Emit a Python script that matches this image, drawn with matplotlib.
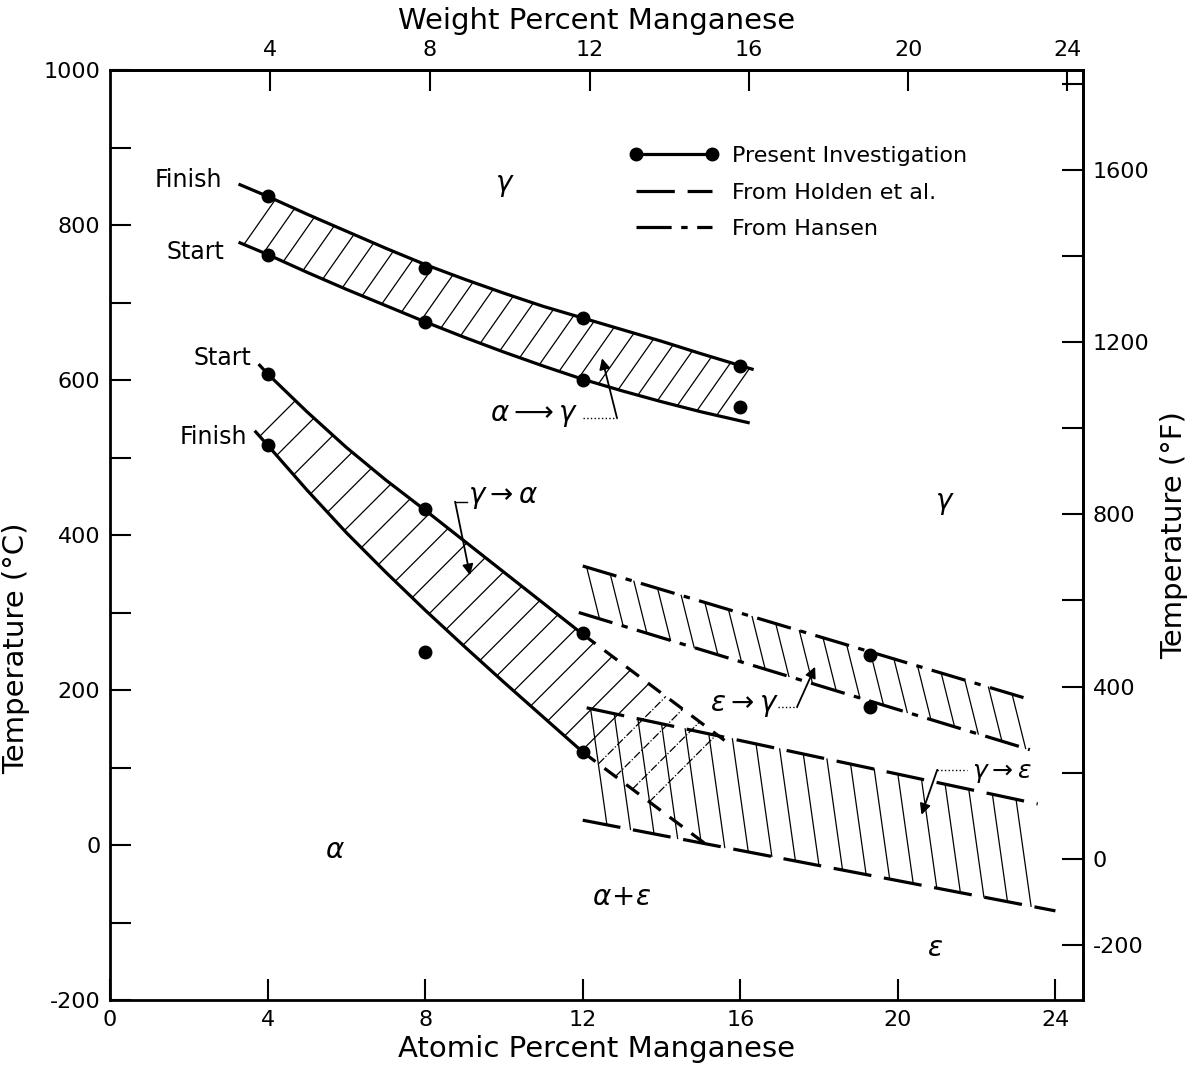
import numpy as np
import matplotlib
matplotlib.use("Agg")
import matplotlib.pyplot as plt
from matplotlib.lines import Line2D
from matplotlib.ticker import FixedLocator, FuncFormatter

# ---------------- data (atomic % Mn, temperature in deg C) ----------------
# measured points, present investigation
heat_finish_pts_x = [4, 8, 12, 16]
heat_finish_pts_y = [838, 745, 680, 618]
heat_start_pts_x = [4, 8, 12, 16]
heat_start_pts_y = [761, 675, 600, 565]
cool_start_pts_x = [4, 8, 12]
cool_start_pts_y = [608, 434, 273]
cool_finish_pts_x = [4, 8, 12]
cool_finish_pts_y = [516, 249, 120]
eps_pts_x = [19.3, 19.3]
eps_pts_y = [245, 178]

# curves
heat_finish_x = [3.3, 4, 5, 6, 7, 8, 9, 10, 11, 12, 13, 14, 15, 16.3]
heat_finish_y = [852, 837, 814, 792, 770, 749, 730, 712, 695, 680, 665, 650, 634, 614]
heat_start_x = [3.3, 4, 5, 6, 7, 8, 9, 10, 11, 12, 13, 14, 15, 16.2]
heat_start_y = [777, 762, 739, 717, 696, 675, 655, 636, 618, 601, 586, 572, 559, 545]
cool_start_x = [3.8, 4, 5, 6, 7, 8, 9, 10, 11, 12]
cool_start_y = [619, 608, 559, 513, 471, 432, 392, 352, 312, 272]
cool_start_ext_x = [12, 15.6]
cool_start_ext_y = [272, 135]
cool_finish_x = [3.7, 4, 5, 6, 7, 8, 9, 10, 11, 12]
cool_finish_y = [533, 516, 458, 403, 352, 303, 256, 210, 165, 120]
cool_finish_ext_x = [12, 15.1]
cool_finish_ext_y = [120, 2]

# Hansen (eps -> gamma) and Holden et al. (gamma -> eps)
hansen_upper_x = [12.0, 23.4]
hansen_upper_y = [360, 187]
hansen_lower_x = [11.9, 23.35]
hansen_lower_y = [300, 123]
holden_upper_x = [12.1, 23.55]
holden_upper_y = [177, 53]
holden_lower_x = [12.0, 24.0]
holden_lower_y = [32, -85]

x_ticks = [0, 4, 8, 12, 16, 20, 24]
y_major = [-200, 0, 200, 400, 600, 800, 1000]
wt_ticks = [4, 8, 12, 16, 20, 24]
f_ticks = [-200, 0, 200, 400, 600, 800, 1000, 1200, 1400, 1600, 1800]
f_labeled = [-200, 0, 400, 800, 1200, 1600]

legend_labels = ["Present Investigation", "From Holden et al.", "From Hansen"]

# ---------------- figure ----------------
W, H, DPI = 11.88, 10.76, 100
XMIN, XMAX, YMIN, YMAX = 0, 24.7, -200, 1000
AX_L, AX_B, AX_W, AX_H = 110 / 1188, 76 / 1076, 973 / 1188, 930 / 1076

plt.rcParams["font.family"] = ["DejaVu Sans"]
plt.rcParams["mathtext.fontset"] = "dejavusans"
plt.rcParams["axes.unicode_minus"] = False

fig = plt.figure(figsize=(W, H), dpi=DPI)
ax = fig.add_axes([AX_L, AX_B, AX_W, AX_H])
ax.set_xlim(XMIN, XMAX)
ax.set_ylim(YMIN, YMAX)

SX = AX_W * W * DPI / (XMAX - XMIN)   # pixels per at%
SY = AX_H * H * DPI / (YMAX - YMIN)   # pixels per deg C

LW = 2.3
HLW = 0.9
holden_ls = (0, (12, 4))
hansen_ls = (0, (11, 3, 2, 3))


def hatch(from_x, from_y, to_x, to_y, starts, angle, up=True, **kw):
    a = np.deg2rad(angle)
    dx, dy = np.cos(a) / SX, np.sin(a) / SY
    t = np.linspace(0.5, 500, 5000)
    for x0 in starts:
        if x0 < from_x[0] or x0 > from_x[-1]:
            continue
        y0 = np.interp(x0, from_x, from_y)
        xs = x0 + t * dx
        ys = y0 + t * dy
        valid = (xs >= to_x[0]) & (xs <= to_x[-1])
        f = ys - np.interp(xs, to_x, to_y)
        idx = np.where(valid & ((f >= 0) if up else (f <= 0)))[0]
        if len(idx) == 0:
            continue
        i = idx[0]
        ax.plot([x0, xs[i]], [y0, ys[i]], color="k", lw=HLW, **kw)


# upper band: alpha -> gamma
ax.plot(heat_finish_x, heat_finish_y, color="k", lw=LW)
ax.plot(heat_start_x, heat_start_y, color="k", lw=LW)
hatch(heat_start_x, heat_start_y, heat_finish_x, heat_finish_y,
      np.arange(3.4, 16.3, 0.5), 55, up=True)

# lower band: gamma -> alpha
ax.plot(cool_start_x, cool_start_y, color="k", lw=LW)
ax.plot(cool_finish_x, cool_finish_y, color="k", lw=LW)
ax.plot(cool_start_ext_x, cool_start_ext_y, color="k", lw=LW, ls=(0, (5, 3.5)))
ax.plot(cool_finish_ext_x, cool_finish_ext_y, color="k", lw=LW, ls=(0, (5, 3.5)))
low_x = cool_finish_x + cool_finish_ext_x[1:]
low_y = cool_finish_y + cool_finish_ext_y[1:]
up_x = cool_start_x + cool_start_ext_x[1:]
up_y = cool_start_y + cool_start_ext_y[1:]
starts = np.arange(3.8, 15.1, 0.43)
hatch(low_x, low_y, up_x, up_y, starts[starts <= 12], 45, up=True)
hatch(low_x, low_y, up_x, up_y, starts[starts > 12], 45, up=True, ls="-.")

# eps -> gamma (Hansen)
ax.plot(hansen_upper_x, hansen_upper_y, color="k", lw=LW, ls=hansen_ls)
ax.plot(hansen_lower_x, hansen_lower_y, color="k", lw=LW, ls=hansen_ls)
hatch(hansen_upper_x, hansen_upper_y, hansen_lower_x, hansen_lower_y,
      np.arange(12.1, 23.2, 0.6), -76, up=False)

# gamma -> eps (Holden et al.)
ax.plot(holden_upper_x, holden_upper_y, color="k", lw=LW, ls=holden_ls)
ax.plot(holden_lower_x, holden_lower_y, color="k", lw=LW, ls=holden_ls)
hatch(holden_upper_x, holden_upper_y, holden_lower_x, holden_lower_y,
      np.arange(12.2, 23.6, 0.6), -82, up=False)

# measured points
for px, py in [(heat_finish_pts_x, heat_finish_pts_y), (heat_start_pts_x, heat_start_pts_y),
               (cool_start_pts_x, cool_start_pts_y), (cool_finish_pts_x, cool_finish_pts_y),
               (eps_pts_x, eps_pts_y)]:
    ax.plot(px, py, ls="none", marker="o", ms=9, color="k", zorder=5)

# ---------------- labels on the diagram ----------------
lab_fs = 17
ax.text(2.85, 858, "Finish", ha="right", va="center", fontsize=lab_fs)
ax.text(2.9, 765, "Start", ha="right", va="center", fontsize=lab_fs)
ax.text(3.6, 628, "Start", ha="right", va="center", fontsize=lab_fs)
ax.text(3.48, 526, "Finish", ha="right", va="center", fontsize=lab_fs)

g_fs = 20
ax.text(10.03, 852, r"$\gamma$", ha="center", va="center", fontsize=g_fs)
ax.text(21.2, 441, r"$\gamma$", ha="center", va="center", fontsize=g_fs)
ax.text(5.71, -6, r"$\alpha$", ha="center", va="center", fontsize=g_fs)
ax.text(13.0, -67, r"$\alpha\!+\!\epsilon$", ha="center", va="center", fontsize=g_fs)
ax.text(20.94, -133, r"$\epsilon$", ha="center", va="center", fontsize=g_fs)

arrow_kw = dict(arrowstyle="-|>", color="k", lw=1.3, mutation_scale=16, shrinkA=0, shrinkB=0)

# alpha -> gamma
ax.text(9.64, 555, r"$\alpha \longrightarrow \gamma$", ha="left", va="center", fontsize=g_fs)
ax.plot([12.0, 12.87], [551, 551], color="k", lw=1.0, ls=":")
ax.annotate("", xy=(12.49, 628), xytext=(12.87, 551), arrowprops=arrow_kw)

# gamma -> alpha
ax.text(9.09, 449, r"$\gamma \rightarrow \alpha$", ha="left", va="center", fontsize=g_fs)
ax.plot([8.76, 9.05], [443, 443], color="k", lw=1.0)
ax.annotate("", xy=(9.14, 348), xytext=(8.76, 443), arrowprops=arrow_kw)

# eps -> gamma
ax.text(15.23, 181, r"$\epsilon \rightarrow \gamma$", ha="left", va="center", fontsize=g_fs)
ax.plot([16.95, 17.44], [178, 178], color="k", lw=1.0, ls=":")
ax.annotate("", xy=(17.9, 230), xytext=(17.44, 178), arrowprops=arrow_kw)

# gamma -> eps
ax.text(21.88, 93, r"$\gamma \rightarrow \epsilon$", ha="left", va="center", fontsize=g_fs - 2)
ax.plot([21.0, 21.75], [97, 97], color="k", lw=1.0, ls=":")
ax.annotate("", xy=(20.6, 39), xytext=(21.0, 97), arrowprops=arrow_kw)

# ---------------- legend ----------------
handles = [Line2D([], [], color="k", lw=LW, marker="o", ms=9),
           Line2D([], [], color="k", lw=LW, ls=holden_ls),
           Line2D([], [], color="k", lw=LW, ls=hansen_ls)]
ax.legend(handles, legend_labels, loc="upper left", bbox_to_anchor=(0.525, 0.928),
          frameon=False, handlelength=4.0, numpoints=2, fontsize=16,
          handletextpad=0.6, labelspacing=0.75, borderaxespad=0)

# ---------------- axes ----------------
tick_fs = 16
ax.set_xticks(x_ticks)
ax.set_yticks(y_major)
ax.set_yticks(np.arange(-100, 1000, 200), minor=True)
ax.tick_params(axis="both", which="both", direction="in", length=15, width=1.5,
               labelsize=tick_fs, pad=7)
ax.tick_params(axis="y", which="minor", length=15)
for s in ax.spines.values():
    s.set_linewidth(2)
ax.set_xlabel("Atomic Percent Manganese", fontsize=21, labelpad=4)
ax.set_ylabel("Temperature (\u00b0C)", fontsize=21)
ax.yaxis.set_label_coords(-0.082, 0.378)

M_MN, M_FE = 54.94, 55.85


def at2wt(a):
    a = np.asarray(a, dtype=float)
    return 100 * a * M_MN / (a * M_MN + (100 - a) * M_FE)


def wt2at(w):
    w = np.asarray(w, dtype=float)
    return 100 * (w / M_MN) / (w / M_MN + (100 - w) / M_FE)


top = ax.secondary_xaxis("top", functions=(at2wt, wt2at))
top.set_xticks(wt_ticks)
top.tick_params(direction="in", length=15, width=1.5, labelsize=tick_fs, pad=7)
top.set_xlabel("Weight Percent Manganese", fontsize=21, labelpad=8)
for s in top.spines.values():
    s.set_linewidth(2)


def c2f(c):
    return np.asarray(c, dtype=float) * 9 / 5 + 32


def f2c(f):
    return (np.asarray(f, dtype=float) - 32) * 5 / 9


right = ax.secondary_yaxis("right", functions=(c2f, f2c))
right.yaxis.set_major_locator(FixedLocator(f_ticks))
right.yaxis.set_major_formatter(FuncFormatter(
    lambda v, p: f"{int(round(v))}" if int(round(v)) in f_labeled else ""))
right.tick_params(direction="in", length=15, width=1.5, labelsize=tick_fs, pad=7)
right.set_ylabel("Temperature (\u00b0F)", fontsize=21, labelpad=8)
for s in right.spines.values():
    s.set_linewidth(2)

fig.savefig("out.png", dpi=DPI)
